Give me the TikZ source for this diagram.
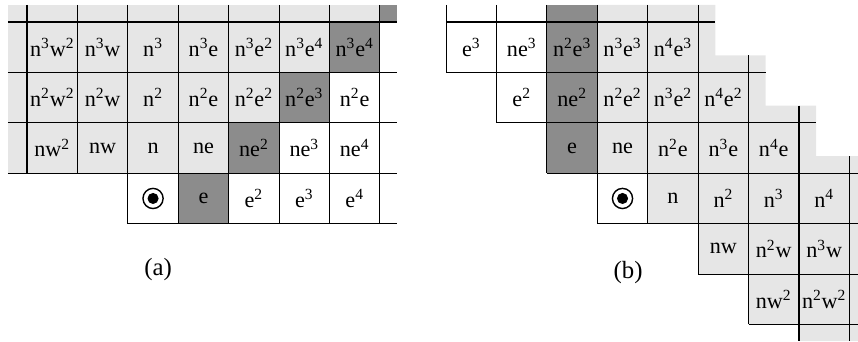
\documentclass[tikz,border=0pt]{standalone}
\usepackage{fontspec}
\setmainfont{Liberation Serif}
\definecolor{lightcell}{RGB}{230,230,230}
\definecolor{darkcell}{RGB}{140,140,140}
\newcommand{\sx}[1]{\textsuperscript{#1}}

\begin{document}
\begin{tikzpicture}[x=1cm, y=1cm,
  cell/.style={minimum size=1cm, inner sep=0pt, font=\fontsize{12.5}{15}\selectfont},
  light/.style={cell, fill=lightcell},
  dark/.style={cell, fill=darkcell},
  plain/.style={cell, fill=white},
  gridline/.style={line width=0.6pt},
  caption/.style={font=\fontsize{14}{16}\selectfont}]
  \useasboundingbox (0,0) rectangle (17.02,-6.766);

  % (a)
  \begin{scope}[shift={(0.536,-0.437)}]
    \fill[lightcell] (-0.38,0.34) rectangle (7,-3);
    \fill[darkcell] (7,0.34) rectangle (7.34,0);
    \node[light] (a-n3w2) at (0.5,-0.5) {n\sx{3}w\sx{2}};
    \node[light] (a-n3w)  at (1.5,-0.5) {n\sx{3}w};
    \node[light] (a-n3)   at (2.5,-0.5) {n\sx{3}};
    \node[light] (a-n3e)  at (3.5,-0.5) {n\sx{3}e};
    \node[light] (a-n3e2) at (4.5,-0.5) {n\sx{3}e\sx{2}};
    \node[light] (a-n3e4) at (5.5,-0.5) {n\sx{3}e\sx{4}};
    \node[dark]  (a-n3e4b) at (6.5,-0.5) {n\sx{3}e\sx{4}};
    \node[light] (a-n2w2) at (0.5,-1.5) {n\sx{2}w\sx{2}};
    \node[light] (a-n2w)  at (1.5,-1.5) {n\sx{2}w};
    \node[light] (a-n2)   at (2.5,-1.5) {n\sx{2}};
    \node[light] (a-n2e)  at (3.5,-1.5) {n\sx{2}e};
    \node[light] (a-n2e2) at (4.5,-1.5) {n\sx{2}e\sx{2}};
    \node[dark]  (a-n2e3) at (5.5,-1.5) {n\sx{2}e\sx{3}};
    \node[plain] (a-n2eb) at (6.5,-1.5) {n\sx{2}e};
    \node[light] (a-nw2)  at (0.5,-2.5) {nw\sx{2}};
    \node[light] (a-nw)   at (1.5,-2.5) {nw};
    \node[light] (a-n)    at (2.5,-2.5) {n};
    \node[light] (a-ne)   at (3.5,-2.5) {ne};
    \node[dark]  (a-ne2)  at (4.5,-2.5) {ne\sx{2}};
    \node[plain] (a-ne3)  at (5.5,-2.5) {ne\sx{3}};
    \node[plain] (a-ne4)  at (6.5,-2.5) {ne\sx{4}};
    \node[plain] (a-o)    at (2.5,-3.5) {};
    \node[dark]  (a-e)    at (3.5,-3.5) {e};
    \node[plain] (a-e2)   at (4.5,-3.5) {e\sx{2}};
    \node[plain] (a-e3)   at (5.5,-3.5) {e\sx{3}};
    \node[plain] (a-e4)   at (6.5,-3.5) {e\sx{4}};
    \draw[line width=0.8pt] (a-o.center) circle (0.2);
    \fill (a-o.center) circle (0.11);
    % grid
    \draw[gridline] (-0.38,0) -- (7.34,0);
    \draw[gridline] (-0.38,-1) -- (7.34,-1);
    \draw[gridline] (-0.38,-2) -- (7.34,-2);
    \draw[gridline] (-0.38,-3) -- (7.34,-3);
    \draw[gridline] (2,-4) -- (7.34,-4);
    \draw[gridline] (0,0.34) -- (0,-3);
    \draw[gridline] (1,0.34) -- (1,-3);
    \draw[gridline] (2,0.34) -- (2,-4);
    \draw[gridline] (3,0.34) -- (3,-4);
    \draw[gridline] (4,0.34) -- (4,-4);
    \draw[gridline] (5,0.34) -- (5,-4);
    \draw[gridline] (6,0.34) -- (6,-4);
    \draw[gridline] (7,0.34) -- (7,-4);
    \node[caption] (a-cap) at (2.6,-4.9) {(a)};
  \end{scope}

  % (b)
  \begin{scope}[shift={(8.849,-0.437)}]
    \fill[lightcell] (3,0.34) -- (5.34,0.34) -- (5.34,-0.66) -- (6.34,-0.66)
      -- (6.34,-1.66) -- (7.34,-1.66) -- (7.34,-2.66) -- (8.17,-2.66)
      -- (8.17,-6.33) -- (7,-6.33) -- (7,-6) -- (6,-6) -- (6,-5) -- (5,-5)
      -- (5,-4) -- (3,-4) -- cycle;
    \fill[darkcell] (2,0.34) rectangle (3,-3);
    \node[plain] (b-e3)   at (0.5,-0.5) {e\sx{3}};
    \node[plain] (b-ne3)  at (1.5,-0.5) {ne\sx{3}};
    \node[dark]  (b-n2e3) at (2.5,-0.5) {n\sx{2}e\sx{3}};
    \node[light] (b-n3e3) at (3.5,-0.5) {n\sx{3}e\sx{3}};
    \node[light] (b-n4e3) at (4.5,-0.5) {n\sx{4}e\sx{3}};
    \node[plain] (b-e2)   at (1.5,-1.5) {e\sx{2}};
    \node[dark]  (b-ne2)  at (2.5,-1.5) {ne\sx{2}};
    \node[light] (b-n2e2) at (3.5,-1.5) {n\sx{2}e\sx{2}};
    \node[light] (b-n3e2) at (4.5,-1.5) {n\sx{3}e\sx{2}};
    \node[light] (b-n4e2) at (5.5,-1.5) {n\sx{4}e\sx{2}};
    \node[dark]  (b-e)    at (2.5,-2.5) {e};
    \node[light] (b-ne)   at (3.5,-2.5) {ne};
    \node[light] (b-n2e)  at (4.5,-2.5) {n\sx{2}e};
    \node[light] (b-n3e)  at (5.5,-2.5) {n\sx{3}e};
    \node[light] (b-n4e)  at (6.5,-2.5) {n\sx{4}e};
    \node[plain] (b-o)    at (3.5,-3.5) {};
    \node[light] (b-n)    at (4.5,-3.5) {n};
    \node[light] (b-n2)   at (5.5,-3.5) {n\sx{2}};
    \node[light] (b-n3)   at (6.5,-3.5) {n\sx{3}};
    \node[light] (b-n4)   at (7.5,-3.5) {n\sx{4}};
    \node[light] (b-nw)   at (5.5,-4.5) {nw};
    \node[light] (b-n2w)  at (6.5,-4.5) {n\sx{2}w};
    \node[light] (b-n3w)  at (7.5,-4.5) {n\sx{3}w};
    \node[light] (b-nw2)  at (6.5,-5.5) {nw\sx{2}};
    \node[light] (b-n2w2) at (7.5,-5.5) {n\sx{2}w\sx{2}};
    \draw[line width=0.8pt] (b-o.center) circle (0.2);
    \fill (b-o.center) circle (0.11);
    % grid
    \draw[gridline] (0,0) -- (5.34,0);
    \draw[gridline] (0,-1) -- (6.34,-1);
    \draw[gridline] (1,-2) -- (7.34,-2);
    \draw[gridline] (2,-3) -- (8.17,-3);
    \draw[gridline] (3,-4) -- (8.17,-4);
    \draw[gridline] (5,-5) -- (8.17,-5);
    \draw[gridline] (6,-6) -- (8.17,-6);
    \draw[gridline] (0,0.34) -- (0,-1);
    \draw[gridline] (1,0.34) -- (1,-2);
    \draw[gridline] (2,0.34) -- (2,-3);
    \draw[gridline] (3,0.34) -- (3,-4);
    \draw[gridline] (4,0.34) -- (4,-4);
    \draw[gridline] (5,0.34) -- (5,-5);
    \draw[gridline] (6,-0.66) -- (6,-6);
    \draw[gridline] (7,-1.66) -- (7,-6.33);
    \draw[gridline] (8,-2.66) -- (8,-6.33);
    \node[caption] (b-cap) at (3.61,-4.96) {(b)};
  \end{scope}
\end{tikzpicture}
\end{document}
